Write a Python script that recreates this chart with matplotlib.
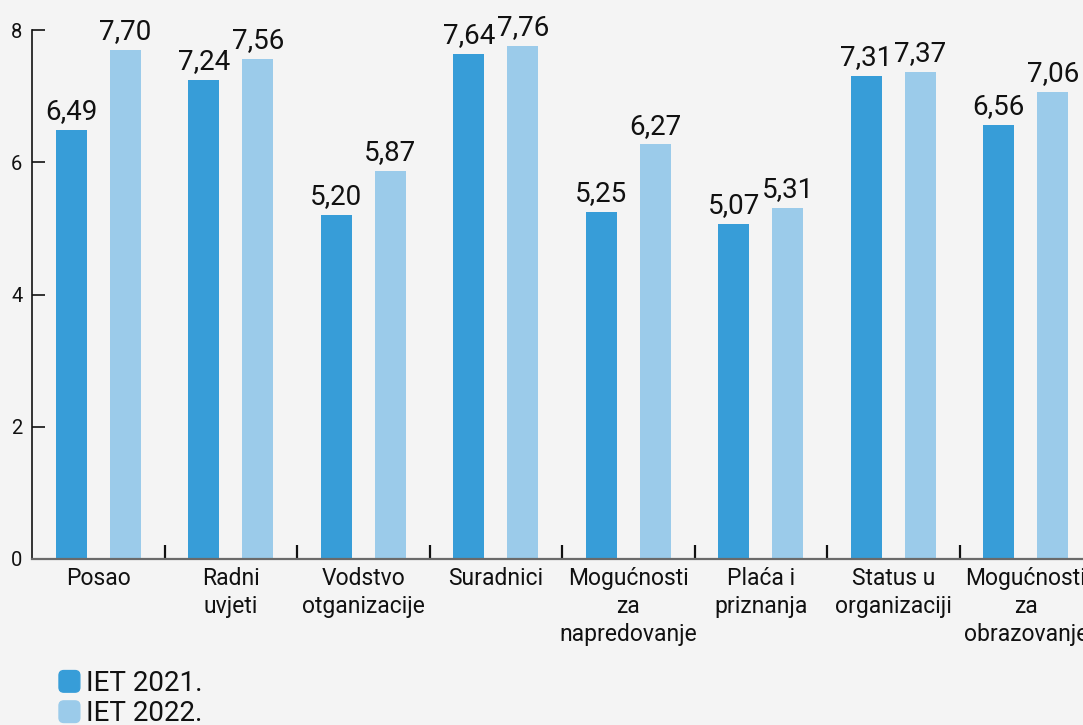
import matplotlib
matplotlib.use("Agg")
import matplotlib.pyplot as plt
import numpy as np
from matplotlib.patches import FancyBboxPatch, Patch
from matplotlib.legend_handler import HandlerPatch
from matplotlib.ticker import FixedLocator

plt.rcParams['font.family'] = ['Roboto', 'DejaVu Sans']

categories = ["Posao", "Radni\nuvjeti", "Vodstvo\notganizacije", "Suradnici",
              "Mogućnosti\nza\nnapredovanje", "Plaća i\npriznanja",
              "Status u\norganizaciji", "Mogućnosti\nza\nobrazovanje"]
iet_2021 = [6.49, 7.24, 5.20, 7.64, 5.25, 5.07, 7.31, 6.56]
iet_2022 = [7.70, 7.56, 5.87, 7.76, 6.27, 5.31, 7.37, 7.06]
series_names = ["IET 2021.", "IET 2022."]
yticks = [0, 2, 4, 6, 8]

c_dark = "#379dd8"
c_light = "#9bcbea"
bg = "#f4f4f4"
ink = "#111111"

fig = plt.figure(figsize=(10.83, 7.25), dpi=100, facecolor=bg)
ax = fig.add_axes([32 / 1083, 166 / 725, 1060 / 1083, 529 / 725])
ax.set_facecolor(bg)

x = np.arange(len(categories))
bw = 0.234
off = 0.204
b1 = ax.bar(x - off, iet_2021, bw, color=c_dark, zorder=2)
b2 = ax.bar(x + off, iet_2022, bw, color=c_light, zorder=2)

def fmt(v):
    return f"{v:.2f}".replace(".", ",")

for bars, vals in ((b1, iet_2021), (b2, iet_2022)):
    for rect, v in zip(bars, vals):
        ax.annotate(fmt(v), (rect.get_x() + rect.get_width() / 2, v),
                    xytext=(0, 3.5), textcoords="offset points",
                    ha="center", va="bottom", fontsize=20, color=ink)

ax.set_xlim(-0.5, len(categories) - 0.5)
ax.set_ylim(0, 8)

ax.set_yticks(yticks)
ax.set_yticklabels([str(t) for t in yticks])
ax.tick_params(axis="y", direction="in", length=9.5, width=1.2, color=ink,
               labelsize=14.5, pad=7, labelcolor=ink)

ax.set_xticks(x)
ax.set_xticklabels(categories, fontsize=16.5, color=ink, linespacing=1.27)
ax.tick_params(axis="x", which="major", length=0, pad=6)
ax.xaxis.set_minor_locator(FixedLocator(np.arange(0.5, len(categories) - 1, 1.0)))
ax.tick_params(axis="x", which="minor", direction="in", length=10, width=1.6,
               color=ink)

for s in ("top", "right"):
    ax.spines[s].set_visible(False)
ax.spines["left"].set_color(ink)
ax.spines["left"].set_linewidth(1.2)
ax.spines["bottom"].set_color("#6a6a6a")
ax.spines["bottom"].set_linewidth(1.6)


def rounded_handle(legend, orig_handle, xdescent, ydescent, width, height, fontsize):
    return FancyBboxPatch((-xdescent, -ydescent), width, height,
                          boxstyle="round,pad=0,rounding_size=3.5")


handles = [Patch(color=c_dark), Patch(color=c_light)]
leg = fig.legend(handles, series_names, loc="upper left",
                 bbox_to_anchor=(59 / 1083, 1 - 670 / 725),
                 frameon=False, fontsize=20, handlelength=0.75, handleheight=0.82,
                 handletextpad=0.22, labelspacing=0.12, borderaxespad=0,
                 borderpad=0,
                 handler_map={Patch: HandlerPatch(patch_func=rounded_handle)})
for t in leg.get_texts():
    t.set_color(ink)

fig.savefig("out.png", dpi=100, facecolor=bg)
